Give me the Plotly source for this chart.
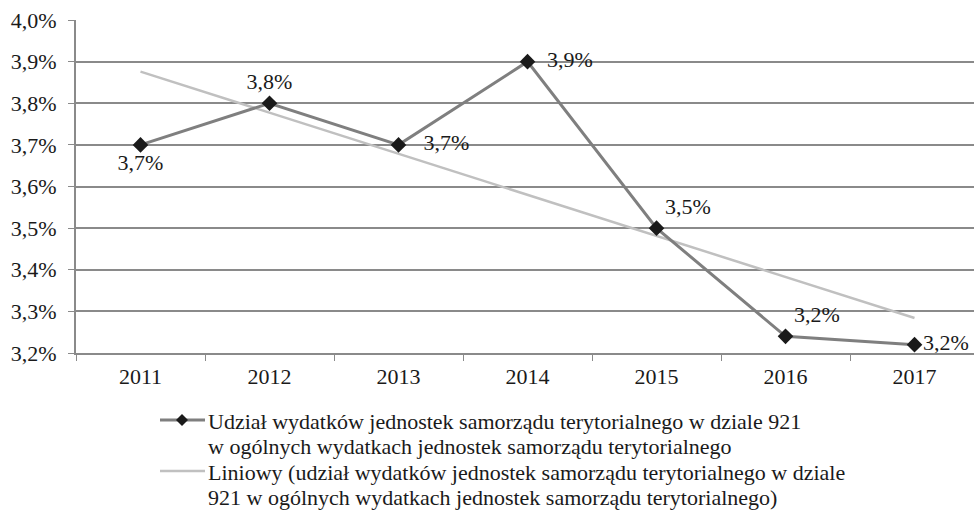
import plotly.graph_objects as go

years = ["2011", "2012", "2013", "2014", "2015", "2016", "2017"]
share = [3.70, 3.80, 3.70, 3.90, 3.50, 3.24, 3.22]
share_labels = ["3,7%", "3,8%", "\u00a0\u00a0\u00a03,7%", "\u00a0\u00a03,9%", "3,5%", "3,2%", "3,2%"]
trend = [3.876, 3.777, 3.679, 3.580, 3.481, 3.383, 3.284]
y_ticks = [3.2, 3.3, 3.4, 3.5, 3.6, 3.7, 3.8, 3.9, 4.0]
y_tick_labels = ["3,2%", "3,3%", "3,4%", "3,5%", "3,6%", "3,7%", "3,8%", "3,9%", "4,0%"]
label_positions = ["bottom center", "top center", "middle right", "middle right",
                   "top right", "top right", "middle right"]
legend_lines_1 = ["Udział wydatków jednostek samorządu terytorialnego w dziale 921",
                  "w ogólnych wydatkach jednostek samorządu terytorialnego"]
legend_lines_2 = ["Liniowy (udział wydatków jednostek samorządu terytorialnego w dziale",
                  "921 w ogólnych wydatkach jednostek samorządu terytorialnego)"]

FONT = "Liberation Serif, Times New Roman, serif"
TXT = "#1a1a1a"
GRID = "#8a8a8a"
MAIN = "#7f7f7f"
TREND = "#c0c0c0"

W, H = 974, 510
L, R, T, B = 76, 0, 20, 157
PW, PH = W - L - R, H - T - B


def px(x):
    return (x - L) / PW


def py(y):
    return (H - B - y) / PH


fig = go.Figure()
fig.add_trace(go.Scatter(
    x=years, y=trend, mode="lines", name=" ".join(legend_lines_2),
    line=dict(color=TREND, width=2.5), hoverinfo="skip",
))
fig.add_trace(go.Scatter(
    x=years, y=share, mode="lines+markers+text", name=" ".join(legend_lines_1),
    line=dict(color=MAIN, width=3),
    marker=dict(symbol="diamond", size=12, color=TXT),
    text=share_labels, textposition=label_positions,
    textfont=dict(family=FONT, size=22, color=TXT),
    cliponaxis=False,
))

# legend drawn manually to match the original's compact line spacing
shapes = []
annotations = []
sym_x0, sym_x1, sym_xc = 160, 205, 182
entries = [(legend_lines_1, 420, MAIN, 3, True), (legend_lines_2, 471, TREND, 2.5, False)]
for lines, y0, col, wdt, diamond in entries:
    shapes.append(dict(type="line", xref="paper", yref="paper",
                       x0=px(sym_x0), x1=px(sym_x1), y0=py(y0), y1=py(y0),
                       line=dict(color=col, width=wdt)))
    if diamond:
        d = 6
        path = (f"M {px(sym_xc - d)},{py(y0)} L {px(sym_xc)},{py(y0 - d)} "
                f"L {px(sym_xc + d)},{py(y0)} L {px(sym_xc)},{py(y0 + d)} Z")
        shapes.append(dict(type="path", xref="paper", yref="paper", path=path,
                           fillcolor=TXT, line=dict(color=TXT, width=0)))
    for i, t in enumerate(lines):
        annotations.append(dict(
            text=t, xref="paper", yref="paper", x=px(206), y=py(y0 + 1 + i * 25),
            xanchor="left", yanchor="middle", showarrow=False,
            font=dict(family=FONT, size=22, color=TXT),
        ))

fig.update_layout(
    width=W, height=H,
    margin=dict(l=L, r=R, t=T, b=B),
    paper_bgcolor="white", plot_bgcolor="white",
    font=dict(family=FONT, size=22, color=TXT),
    showlegend=False,
    shapes=shapes, annotations=annotations,
)
fig.update_xaxes(
    type="category", range=[-0.5, 6.461],
    showgrid=False, showline=True, linecolor=GRID, linewidth=2,
    ticks="outside", ticklen=6, tickcolor=GRID, tickson="boundaries",
    ticklabelstandoff=3,
    tickfont=dict(family=FONT, size=22, color=TXT),
)
fig.update_yaxes(
    range=[3.2, 4.0], tickvals=y_ticks, ticktext=y_tick_labels,
    showgrid=True, gridcolor=GRID, gridwidth=1.5,
    showline=True, linecolor=GRID, linewidth=2,
    ticks="outside", ticklen=6, tickcolor=GRID,
    ticklabelstandoff=7,
    zeroline=False,
    tickfont=dict(family=FONT, size=22, color=TXT),
)

fig.write_html("out.html", config={"displayModeBar": False},
               post_script="document.body.style.margin='0';")
